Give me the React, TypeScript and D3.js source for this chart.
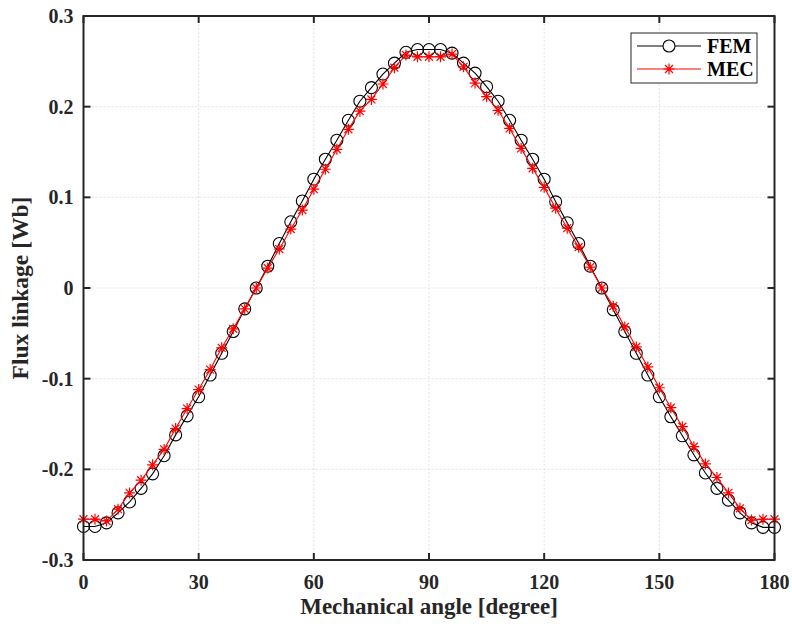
import React from "react";
import * as d3 from "d3";

const angles = [0,3,6,9,12,15,18,21,24,27,30,33,36,39,42,45,48,51,54,57,60,63,66,69,72,75,78,81,84,87,90,93,96,99,102,105,108,111,114,117,120,123,126,129,132,135,138,141,144,147,150,153,156,159,162,165,168,171,174,177,180];

const femValues = [-0.263,-0.263,-0.259,-0.248,-0.236,-0.221,-0.205,-0.185,-0.162,-0.141,-0.120,-0.096,-0.072,-0.048,-0.023,0.000,0.024,0.049,0.073,0.096,0.120,0.142,0.163,0.185,0.206,0.221,0.236,0.248,0.260,0.263,0.263,0.263,0.259,0.248,0.237,0.222,0.206,0.185,0.163,0.142,0.120,0.095,0.072,0.049,0.024,0.000,-0.024,-0.048,-0.072,-0.096,-0.120,-0.142,-0.163,-0.184,-0.204,-0.221,-0.234,-0.248,-0.259,-0.264,-0.264];

const mecValues = [-0.255,-0.255,-0.257,-0.244,-0.226,-0.212,-0.195,-0.178,-0.155,-0.133,-0.112,-0.090,-0.066,-0.045,-0.023,0.000,0.022,0.043,0.065,0.086,0.109,0.131,0.153,0.175,0.195,0.208,0.225,0.243,0.257,0.255,0.255,0.255,0.258,0.244,0.226,0.211,0.196,0.176,0.154,0.132,0.111,0.088,0.066,0.045,0.023,0.000,-0.020,-0.043,-0.065,-0.087,-0.110,-0.132,-0.153,-0.175,-0.194,-0.209,-0.226,-0.243,-0.256,-0.255,-0.255];

const xTicks = [0,30,60,90,120,150,180];
const yTicks = [-0.3,-0.2,-0.1,0,0.1,0.2,0.3];
const yTickLabels = ["-0.3","-0.2","-0.1","0","0.1","0.2","0.3"];
const seriesNames = ["FEM","MEC"];

const W = 792, H = 628;
const L = 83.5, R = 774.5, T = 16, B = 560;
const FONT = "'Liberation Serif', 'Times New Roman', serif";
const AX = "#262626";

function starPath(cx: number, cy: number, s: number) {
  const d = s * 0.72;
  return `M${cx - s},${cy}H${cx + s}M${cx},${cy - s}V${cy + s}M${cx - d},${cy - d}L${cx + d},${cy + d}M${cx - d},${cy + d}L${cx + d},${cy - d}`;
}

export default function App() {
  const x = d3.scaleLinear().domain([0, 180]).range([L, R]);
  const y = d3.scaleLinear().domain([-0.3, 0.3]).range([B, T]);
  const line = d3.line<[number, number]>().x(d => x(d[0])).y(d => y(d[1]));
  const fem = angles.map((a, i) => [a, femValues[i]] as [number, number]);
  const mec = angles.map((a, i) => [a, mecValues[i]] as [number, number]);
  const tick = 7;

  return (
    <svg width={W} height={H} style={{ position: "absolute", left: 0, top: 0, background: "#fff" }}>
      <rect x={0} y={0} width={W} height={H} fill="#fff" />
      {/* grid */}
      <g stroke="#e3e3e3" strokeWidth={1} strokeDasharray="2,2">
        {xTicks.slice(1, -1).map(t => (
          <line key={"gx" + t} x1={x(t)} x2={x(t)} y1={T} y2={B} />
        ))}
        {yTicks.slice(1, -1).map(t => (
          <line key={"gy" + t} x1={L} x2={R} y1={y(t)} y2={y(t)} />
        ))}
      </g>
      {/* series */}
      <path d={line(fem) || ""} fill="none" stroke="#000" strokeWidth={1.1} />
      {fem.map((p, i) => (
        <circle key={"c" + i} cx={x(p[0])} cy={y(p[1])} r={6} fill="none" stroke="#000" strokeWidth={1.1} />
      ))}
      <path d={line(mec) || ""} fill="none" stroke="#ff0000" strokeWidth={1.1} />
      {mec.map((p, i) => (
        <path key={"s" + i} d={starPath(x(p[0]), y(p[1]), 5.5)} fill="none" stroke="#ff0000" strokeWidth={1.2} />
      ))}
      {/* axes box */}
      <rect x={L} y={T} width={R - L} height={B - T} fill="none" stroke={AX} strokeWidth={2} />
      <g stroke={AX} strokeWidth={2}>
        {xTicks.map(t => (
          <g key={"tx" + t}>
            <line x1={x(t)} x2={x(t)} y1={B} y2={B - tick} />
            <line x1={x(t)} x2={x(t)} y1={T} y2={T + tick} />
          </g>
        ))}
        {yTicks.map(t => (
          <g key={"ty" + t}>
            <line x1={L} x2={L + tick} y1={y(t)} y2={y(t)} />
            <line x1={R} x2={R - tick} y1={y(t)} y2={y(t)} />
          </g>
        ))}
      </g>
      {/* tick labels */}
      <g fontFamily={FONT} fontWeight="bold" fontSize={20} fill={AX}>
        {xTicks.map(t => (
          <text key={"lx" + t} x={x(t)} y={589} textAnchor="middle">{t}</text>
        ))}
        {yTicks.map((t, i) => (
          <text key={"ly" + t} x={L - 10} y={y(t) + 7} textAnchor="end">{yTickLabels[i]}</text>
        ))}
      </g>
      {/* axis titles */}
      <text x={(L + R) / 2} y={614} textAnchor="middle" fontFamily={FONT} fontWeight="bold" fontSize={23} fill={AX}>
        Mechanical angle [degree]
      </text>
      <text transform={`translate(28,${(T + B) / 2}) rotate(-90)`} textAnchor="middle" fontFamily={FONT} fontWeight="bold" fontSize={23.5} fill={AX}>
        Flux linkage [Wb]
      </text>
      {/* legend */}
      <g>
        <rect x={631} y={33} width={126} height={50} fill="#fff" stroke={AX} strokeWidth={1} />
        <line x1={637} x2={701} y1={46} y2={46} stroke="#000" strokeWidth={1.1} />
        <circle cx={669} cy={46} r={6} fill="#fff" stroke="#000" strokeWidth={1.1} />
        <line x1={637} x2={701} y1={69} y2={69} stroke="#ff0000" strokeWidth={1.1} />
        <path d={starPath(669, 69, 5.5)} fill="none" stroke="#ff0000" strokeWidth={1.2} />
        <text x={707} y={53} fontFamily={FONT} fontWeight="bold" fontSize={20} fill="#000">{seriesNames[0]}</text>
        <text x={707} y={76} fontFamily={FONT} fontWeight="bold" fontSize={20} fill="#000">{seriesNames[1]}</text>
      </g>
    </svg>
  );
}
